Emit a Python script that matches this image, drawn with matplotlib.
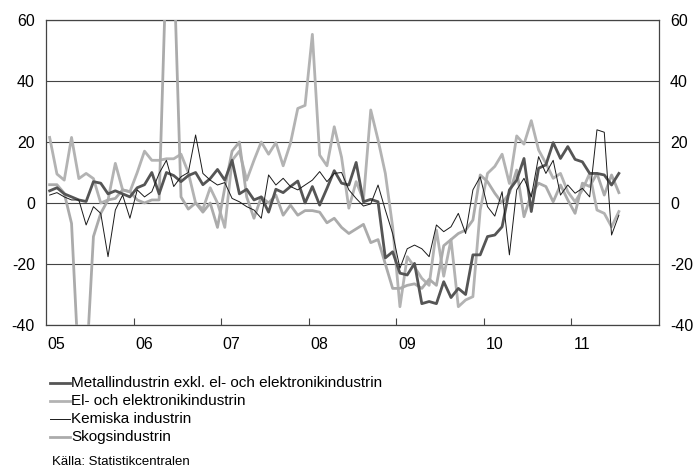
import numpy as np
import matplotlib
matplotlib.use("Agg")
import matplotlib.pyplot as plt

plt.rcParams['font.family'] = ['Liberation Sans', 'DejaVu Sans']

start_year = 2005
year_labels = ["05", "06", "07", "08", "09", "10", "11"]
y_ticks = [-40, -20, 0, 20, 40, 60]

metal = [4, 5, 3, 2, 1, 0.5, 7, 6.5, 3, 4, 3, 2,
         5, 6, 10, 3, 10, 9, 7, 9, 10, 6, 8, 11,
         7.5, 14, 3, 4.5, 1, 2, -3, 4.5, 3.4, 5.4, 7.2, 0,
         5.4, -0.7, 4.8, 10.6, 6.5, 5.9, 13.3, 0.4, 1.2, 0.4, -18, -16,
         -23, -23.6, -19.8, -33, -32.3, -33, -25.8, -31, -28, -30, -17, -17,
         -11, -10.5, -7.8, 4.3, 7.5, 14.6, -2.8, 11.4, 12.5, 19.8, 14.6, 18.5,
         14.3, 13.5, 9.7, 9.7, 9.2, 5.9, 9.7]

el = [21.5, 9.5, 7.5, 21.5, 8, 9.7, 8, 0, 1, 13, 4.3, 3.7,
      10, 17, 14, 14, 14.5, 14.5, 16, 10, 0, -2, 5, 0,
      -8, 14, 17, 7.5, 14, 20, 16, 19.8, 12.2, 19.6, 31, 32,
      55.3, 15.7, 12.2, 25, 15, -1.7, 7, 1, 30.5, 20.7, 9.7, -7.8,
      -34, -17.6, -21, -24.7, -27, -8.9, -24, -12, -34, -31.8, -30.7, -2.3,
      9.7, 12, 16, 6.4, 22, 19.3, 27, 17.4, 13, 8.1, 9.7, 3.7,
      0.4, 4.3, 9.7, -2.3, -3.4, -7.8, -2.8]

kemi = [2.6, 3.4, 2, 1, 1, -7.2, -1.2, -3.4, -17.6, -2.3, 2.6, -5,
        4.3, 2, 3.7, 9.7, 14, 5.4, 8.6, 10, 22.3, 9.7, 7.5, 5.9,
        6.7, 1.5, 0.4, -1.2, -2.3, -5, 9.2, 5.9, 8.1, 5.4, 4.3, 5.9,
        7.5, 10.3, 7, 9.7, 10, 4.3, 1.5, -1, -0.3, 5.9, -2.3, -10,
        -21.4, -15, -13.8, -15, -17.6, -7.2, -9.4, -7.8, -3.4, -10, 4.3, 8.6,
        -1.2, -4.3, 3.7, -17, 4.3, 8.1, 2, 15.2, 9.7, 14, 2.6, 5.9,
        3.2, 4.8, 2, 24, 23.2, -10.5, -4]

skog = [6, 6, 3.2, -6.7, -55, -55, -11, -3.4, 1, 1.5, 4.3, 3.7,
        1, 0, 1, 1, 80, 80, 2, -2, 0, -3, 0, -8,
        5, 17, 20, 2, -5, 2, 0, 2.6, -4, -0.7, -4, -2.5,
        -2.5, -3, -6.5, -5, -8, -10, -8.5, -7, -13, -12, -20, -28,
        -28, -27, -26.5, -28, -25, -27, -14, -12, -10, -8.9, -5.6, 9.2,
        7, 3.2, 0, 3.2, 10.8, -4.5, 3, 6.5, 5.4, 0.4, 5.9, 1,
        -3.4, 6.5, 5.4, 9.7, 2.6, 9.2, 3.4]

n = len(metal)
x = start_year + (np.arange(n) + 0.5) / 12.0

fig = plt.figure(figsize=(6.98, 4.69), dpi=100)
ax = fig.add_axes([46/698, (469-325)/469, (659-46)/698, (325-20)/469])

ax.plot(x, kemi, color="#1a1a1a", lw=0.7, zorder=5)
ax.plot(x, el, color="#b3b3b3", lw=2.0, zorder=3)
ax.plot(x, skog, color="#ababab", lw=2.0, zorder=3)
ax.plot(x, metal, color="#555555", lw=2.0, zorder=4)

ax.set_xlim(2005, 2012)
ax.set_ylim(-40, 60)
ax.set_yticks(y_ticks)
for yv in y_ticks:
    ax.axhline(yv, color="#444444", lw=0.8, zorder=1)
ax.tick_params(axis='y', length=0, labelsize=11.5, pad=8, labelright=True)
ax.set_yticklabels([str(v) for v in y_ticks])
ax.set_xticks(np.arange(2006, 2012))
ax.set_xticklabels([])
ax.tick_params(axis='x', direction='in', length=5, color="#444444")
for i, lab in enumerate(year_labels):
    ax.text(start_year + i + 0.12, -44, lab, ha='center', va='top', fontsize=11.5)
for s in ax.spines.values():
    s.set_color("#444444")
    s.set_linewidth(0.9)

labels = ["Metallindustrin exkl. el- och elektronikindustrin",
          "El- och elektronikindustrin",
          "Kemiska industrin",
          "Skogsindustrin"]
styles = [("#555555", 2.0), ("#b3b3b3", 2.0), ("#1a1a1a", 0.7), ("#ababab", 2.0)]
for k, (lab, (c, lw)) in enumerate(zip(labels, styles)):
    yy = 1 - (383 + 18*k)/469
    fig.add_artist(plt.Line2D([50/698, 70/698], [yy, yy], color=c, lw=lw))
    fig.text(71/698, yy, lab, va='center', ha='left', fontsize=11)
fig.text(52/698, 1 - 462/469, "Källa: Statistikcentralen", va='center', ha='left', fontsize=9.5)

fig.savefig("out.png", dpi=100)
